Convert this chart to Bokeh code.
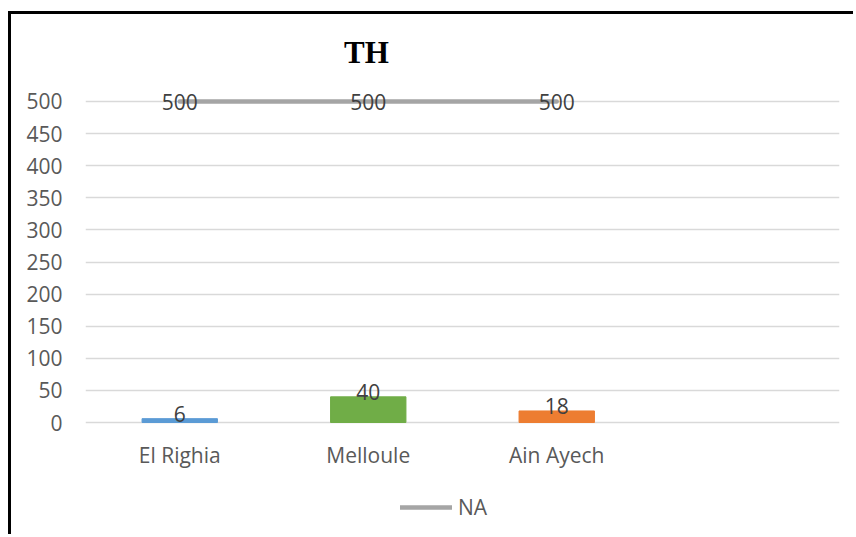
from bokeh.plotting import figure
from bokeh.models import Range1d, FactorRange, Legend, LegendItem, Label, ColumnDataSource
from bokeh.core.properties import value
from bokeh.embed import file_html
from bokeh.resources import INLINE

title_text = "TH"
categories = ["El Righia", "Melloule", "Ain Ayech", " "]
bar_sites = ["El Righia", "Melloule", "Ain Ayech"]
bar_values = [6, 40, 18]
bar_colors = ["#5b9bd5", "#70ad47", "#ed7d31"]
na_sites = ["El Righia", "Melloule", "Ain Ayech"]
na_values = [500, 500, 500]
na_name = "NA"
y_ticks = [0, 50, 100, 150, 200, 250, 300, 350, 400, 450, 500]

FONT = "Open Sans"
FS = "21px"

p = figure(x_range=FactorRange(*categories), y_range=Range1d(-179.1, 635.5),
           width=845, height=523, output_backend="svg", toolbar_location=None,
           min_border_left=74, min_border_right=17, min_border_top=0, min_border_bottom=0)
p.styles = {"margin-left": "8px", "margin-top": "11px",
            "border-left": "3px solid black", "border-top": "3px solid black"}
p.outline_line_color = None
p.background_fill_color = "white"
p.border_fill_color = "white"

p.xgrid.grid_line_color = None
p.ygrid.grid_line_color = "#d9d9d9"
p.ygrid.grid_line_width = 1.5
p.yaxis.ticker = y_ticks
p.xaxis.fixed_location = 0
for ax in (p.xaxis, p.yaxis):
    ax.axis_line_color = None
    ax.major_tick_line_color = None
    ax.minor_tick_line_color = None
    ax.major_tick_out = 0
    ax.major_tick_in = 0
    ax.major_label_text_font = FONT
    ax.major_label_text_font_size = FS
    ax.major_label_text_color = "#595959"
p.xaxis.major_label_standoff = 18
p.yaxis.major_label_standoff = 23

src = ColumnDataSource(dict(x=bar_sites, top=bar_values, color=bar_colors,
                            lab=[str(v) for v in bar_values]))
p.vbar(x="x", top="top", bottom=0, width=0.4, color="color", source=src)
p.text(x="x", y="top", text="lab", source=src, text_align="center", text_baseline="middle",
       y_offset=-5, text_font=value(FONT), text_font_size=FS, text_color="#404040")

nsrc = ColumnDataSource(dict(x=na_sites, y=na_values, lab=[str(v) for v in na_values]))
line = p.line(x="x", y="y", source=nsrc, line_color="#a5a5a5", line_width=4.5, line_cap="round")
p.text(x="x", y="y", text="lab", source=nsrc, text_align="center", text_baseline="middle",
       y_offset=1, text_font=value(FONT), text_font_size=FS, text_color="#404040")

legend = Legend(items=[LegendItem(label=na_name, renderers=[line])], orientation="horizontal",
                location=(315, 16), glyph_width=52, glyph_height=20, label_standoff=6,
                padding=0, margin=0, border_line_color=None, background_fill_alpha=0,
                label_text_font=FONT, label_text_font_size=FS, label_text_color="#595959")
p.add_layout(legend)

title = Label(x=1.49, y=577, text=title_text, text_align="center", text_baseline="middle",
              text_font="Liberation Serif", text_font_style="bold", text_font_size="31px",
              text_color="black")
p.add_layout(title)

open("out.html", "w").write(file_html(p, INLINE))
